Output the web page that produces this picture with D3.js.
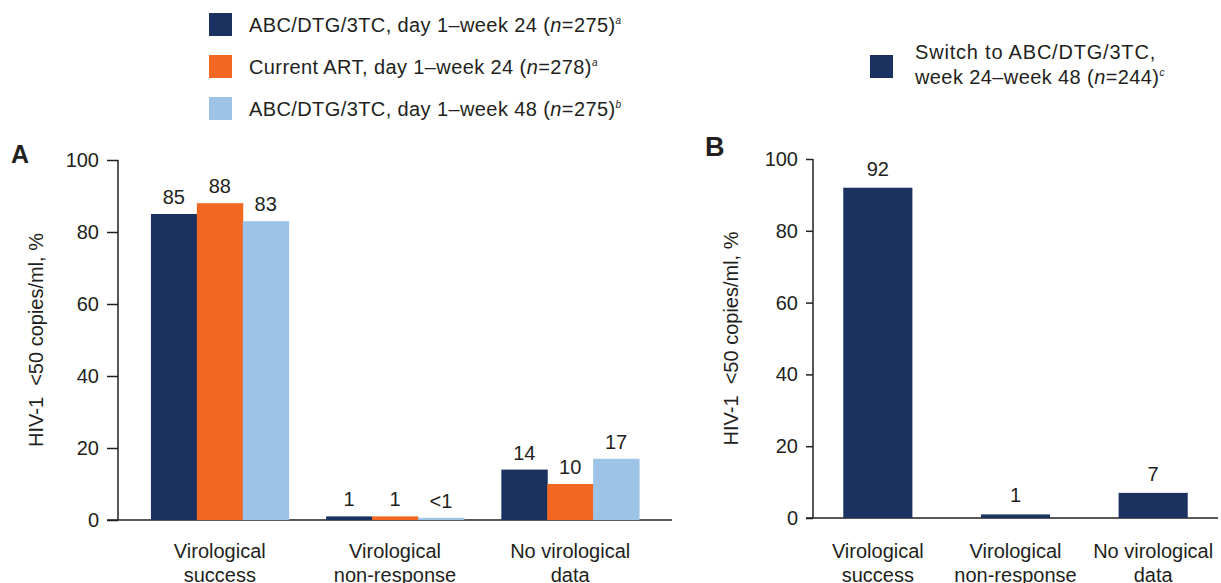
<!DOCTYPE html>
<html>
<head>
<meta charset="utf-8">
<script src="https://cdn.jsdelivr.net/npm/d3@7"></script>
<style>
  body { margin: 0; background: #fff; }
  text { font-family: "Liberation Sans", Arial, Helvetica, sans-serif; fill: #231f20; }
</style>
</head>
<body>
<svg id="chart" width="1221" height="583"></svg>
<script>
const categories = [["Virological", "success"], ["Virological", "non-response"], ["No virological", "data"]];
const seriesA = ["wk24", "cur24", "wk48"];
const valuesA = {
  wk24: [85, 1, 14],
  cur24: [88, 1, 10],
  wk48: [83, 0.6, 17]
};
const labelsA = {
  wk24: ["85", "1", "14"],
  cur24: ["88", "1", "10"],
  wk48: ["83", "<1", "17"]
};
const valuesB = [92, 1, 7];
const labelsB = ["92", "1", "7"];
const yTicks = [0, 20, 40, 60, 80, 100];
const legendA = [
  {key: "wk24", text: "ABC/DTG/3TC, day 1\u2013week 24 (", n: "275", sup: "a"},
  {key: "cur24", text: "Current ART, day 1\u2013week 24 (", n: "278", sup: "a"},
  {key: "wk48", text: "ABC/DTG/3TC, day 1\u2013week 48 (", n: "275", sup: "b"}
];
const legendB = ["Switch to ABC/DTG/3TC,", "week 24\u2013week 48 (", "244", "c"];
const yTitle = "HIV-1\u00a0\u00a0<50 copies/ml, %";

const colors = {wk24: "#1b3160", cur24: "#f26722", wk48: "#9dc3e6"};
const ink = "#231f20";

const svg = d3.select("#chart");

function panel(opts) {
  const y = d3.scaleLinear().domain([0, 100]).range([opts.y0, opts.y100]);
  const x = d3.scaleBand().domain(d3.range(categories.length))
    .range([opts.xl, opts.xr]).paddingInner(opts.pi).paddingOuter(opts.po);
  const g = svg.append("g");

  // y axis
  const ya = g.append("g").attr("transform", "translate(" + opts.xl + ",0)")
    .call(d3.axisLeft(y).tickValues(yTicks).tickSize(opts.tick).tickPadding(8));
  ya.select(".domain").attr("d", "M0," + y(0) + "V" + y(100)).attr("stroke", ink).attr("stroke-width", 1.5);
  ya.selectAll(".tick line").attr("stroke", ink).attr("stroke-width", 1.5);
  ya.selectAll(".tick text").attr("font-size", 20).style("font-family", "'Liberation Sans', Arial, sans-serif").attr("fill", ink);

  // x axis line
  g.append("line").attr("x1", opts.xl - opts.tick).attr("x2", opts.xr)
    .attr("y1", y(0)).attr("y2", y(0)).attr("stroke", ink).attr("stroke-width", 1.5);

  // category labels
  const cl = g.selectAll(".cat").data(categories).enter().append("text")
    .attr("text-anchor", "middle").attr("font-size", 20);
  cl.append("tspan").attr("x", (d, i) => x(i) + x.bandwidth() / 2).attr("y", 558).text(d => d[0]);
  cl.append("tspan").attr("x", (d, i) => x(i) + x.bandwidth() / 2).attr("y", 582).text(d => d[1]);

  // y title
  g.append("text").attr("font-size", 20).attr("text-anchor", "middle")
    .attr("transform", "translate(" + opts.titleX + "," + (y(0) + y(100)) / 2 + ") rotate(-90)")
    .text(yTitle);

  // panel letter
  g.append("text").attr("x", opts.letterX).attr("y", opts.letterY)
    .attr("font-size", opts.letterSize).attr("font-weight", "bold").text(opts.letter);

  return {g, x, y};
}

// Panel A
const pA = panel({xl: 118, xr: 672, y0: 520, y100: 160, pi: 0.214, po: 0.188, tick: 11,
  titleX: 43, letter: "A", letterX: 11, letterY: 163, letterSize: 25});
const xs = d3.scaleBand().domain(seriesA).range([0, pA.x.bandwidth()]);
seriesA.forEach(s => {
  const grp = pA.g.append("g");
  grp.selectAll("rect").data(valuesA[s]).enter().append("rect")
    .attr("x", (d, i) => pA.x(i) + xs(s))
    .attr("width", xs.bandwidth() + 0.5)
    .attr("y", d => pA.y(d))
    .attr("height", d => pA.y(0) - pA.y(d))
    .attr("fill", colors[s]);
  grp.selectAll("text").data(valuesA[s]).enter().append("text")
    .attr("x", (d, i) => pA.x(i) + xs(s) + xs.bandwidth() / 2)
    .attr("y", d => pA.y(d) - 10)
    .attr("text-anchor", "middle").attr("font-size", 20)
    .text((d, i) => labelsA[s][i]);
});

// Panel B
const pB = panel({xl: 813, xr: 1218, y0: 518, y100: 159, pi: 0.498, po: 0.22, tick: 7,
  titleX: 738, letter: "B", letterX: 705, letterY: 156, letterSize: 27});
pB.g.selectAll("rect.b").data(valuesB).enter().append("rect")
  .attr("x", (d, i) => pB.x(i)).attr("width", pB.x.bandwidth())
  .attr("y", d => pB.y(d)).attr("height", d => pB.y(0) - pB.y(d))
  .attr("fill", colors.wk24);
pB.g.selectAll("text.v").data(valuesB).enter().append("text")
  .attr("x", (d, i) => pB.x(i) + pB.x.bandwidth() / 2)
  .attr("y", d => pB.y(d) - 12)
  .attr("text-anchor", "middle").attr("font-size", 20)
  .text((d, i) => labelsB[i]);

// Legend A
const lg = svg.append("g");
legendA.forEach((d, i) => {
  const cy = 24.5 + i * 42;
  lg.append("rect").attr("x", 209).attr("y", cy - 11.5).attr("width", 23).attr("height", 23).attr("fill", colors[d.key]);
  const t = lg.append("text").attr("x", 249).attr("y", cy + 7).attr("font-size", 20).attr("letter-spacing", 0.4);
  t.append("tspan").text(d.text);
  t.append("tspan").attr("font-style", "italic").text("n");
  t.append("tspan").text("=" + d.n + ")");
  t.append("tspan").attr("font-style", "italic").attr("font-size", 10).attr("dy", -8).text(d.sup);
});

// Legend B
lg.append("rect").attr("x", 870).attr("y", 55).attr("width", 23).attr("height", 23).attr("fill", colors.wk24);
lg.append("text").attr("x", 915).attr("y", 59).attr("font-size", 20).attr("letter-spacing", 0.8).text(legendB[0]);
const tb = lg.append("text").attr("x", 915).attr("y", 84).attr("font-size", 20).attr("letter-spacing", 0.4);
tb.append("tspan").text(legendB[1]);
tb.append("tspan").attr("font-style", "italic").text("n");
tb.append("tspan").text("=" + legendB[2] + ")");
tb.append("tspan").attr("font-style", "italic").attr("font-size", 10).attr("dy", -8).text(legendB[3]);
</script>
</body>
</html>
